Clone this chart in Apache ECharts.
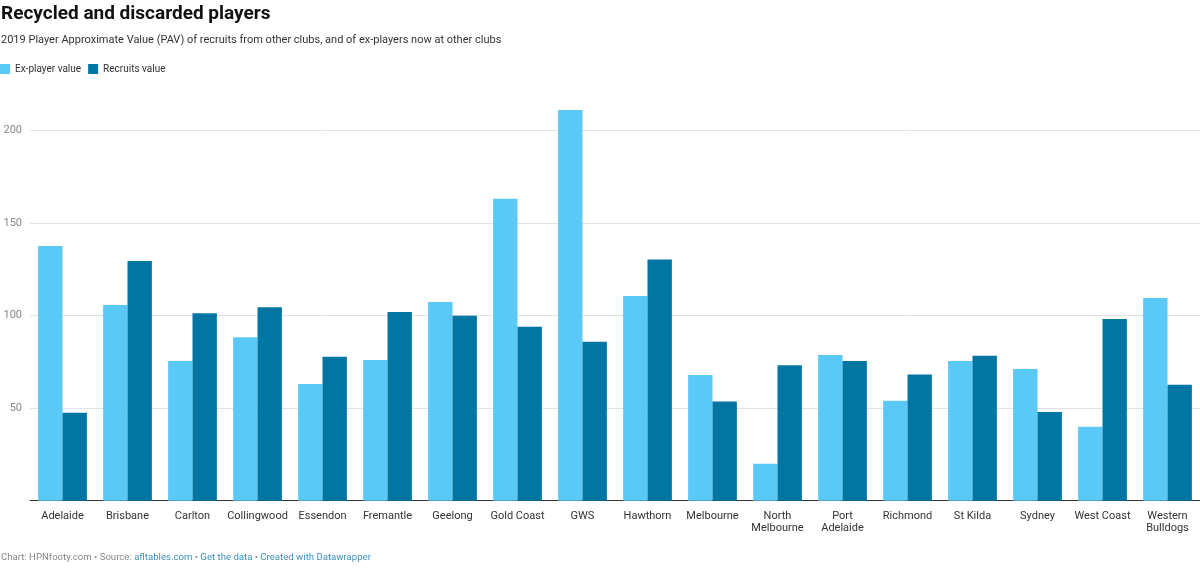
<!DOCTYPE html>
<html>
<head>
<meta charset="utf-8">
<script src="https://cdn.jsdelivr.net/npm/echarts@6/dist/echarts.min.js"></script>
<style>html,body{margin:0;padding:0;background:#fff}#c{width:1200px;height:571px}</style>
</head>
<body>
<div id="c"></div>
<script>
const categories = ['Adelaide','Brisbane','Carlton','Collingwood','Essendon','Fremantle','Geelong','Gold Coast','GWS','Hawthorn','Melbourne','North\nMelbourne','Port\nAdelaide','Richmond','St Kilda','Sydney','West Coast','Western\nBulldogs'];
const exPlayerValue = [137.5,105.7,75.4,88.2,63,76,107.3,163.1,211,110.5,67.9,20,78.7,54,75.4,71.1,40,109.4];
const recruitsValue = [47.5,129.4,101.2,104.4,77.8,101.9,99.9,94,85.9,130.3,53.6,73.1,75.4,68.2,78.3,47.9,98.1,62.6];
const yTicks = [0,50,100,150,200];

const chart = echarts.init(document.getElementById('c'));
const FONT = 'Roboto, "Noto Sans", sans-serif';
chart.setOption({
  animation: false,
  textStyle: {fontFamily: FONT},
  title: [
    {text: 'Recycled and discarded players', left: -4, top: 0,
     textStyle: {fontSize: 19, fontWeight: 'bold', color: '#111', fontFamily: FONT}},
    {text: '2019 Player Approximate Value (PAV) of recruits from other clubs, and of ex-players now at other clubs', left: -4, top: 30,
     textStyle: {fontSize: 11, fontWeight: 'normal', color: '#333', fontFamily: FONT}},
    {text: '{a|Chart: HPNfooty.com • Source: }{b|afltables.com}{a| • }{b|Get the data}{a| • }{b|Created with Datawrapper}',
     left: -4, top: 548,
     textStyle: {fontSize: 9.6, fontWeight: 'normal', fontFamily: FONT,
       rich: {a: {fontSize: 9.6, color: '#888', fontFamily: FONT}, b: {fontSize: 9.6, color: '#3b8fbd', fontFamily: FONT}}}}
  ],
  legend: {left: 0, top: 64, padding: 0, icon: 'rect', itemWidth: 10, itemHeight: 10, itemGap: 7,
    textStyle: {fontSize: 10, color: '#333', padding: [0,0,0,0]},
    data: ['Ex-player value','Recruits value']},
  grid: {left: 30, right: 0, top: 93.3, bottom: 70.3},
  xAxis: {type: 'category', data: categories,
    axisTick: {show: false},
    axisLine: {lineStyle: {color: '#333', width: 1}},
    axisLabel: {fontSize: 11, color: '#333', margin: 10, lineHeight: 12, interval: 0}},
  yAxis: {type: 'value', min: 0, max: 220, interval: 50,
    axisLine: {show: false}, axisTick: {show: false},
    axisLabel: {fontSize: 11, color: '#888', margin: 8, showMaxLabel: false, showMinLabel: false,
      formatter: v => yTicks.includes(v) ? String(v) : ''},
    splitLine: {lineStyle: {color: '#e2e2e2'}, showMaxLine: false, showMinLine: false}},
  series: [
    {name: 'Ex-player value', type: 'bar', data: exPlayerValue, barGap: '0%', barCategoryGap: '25%',
     itemStyle: {color: '#5bc9f8'}},
    {name: 'Recruits value', type: 'bar', data: recruitsValue, barGap: '0%', barCategoryGap: '25%',
     itemStyle: {color: '#0276a2'}}
  ]
});
</script>
</body>
</html>
